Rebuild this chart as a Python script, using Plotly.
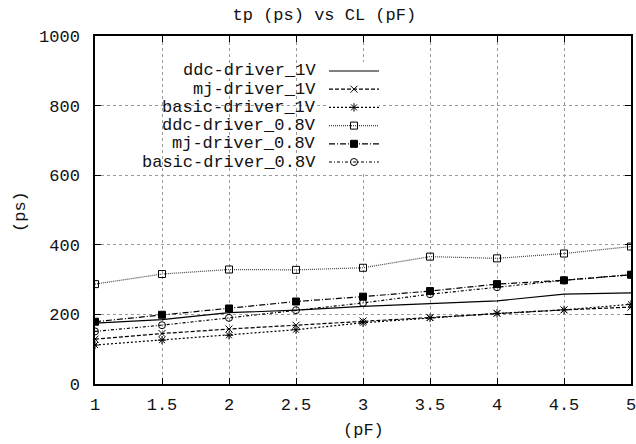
import plotly.graph_objects as go

cl_pf = [1, 1.5, 2, 2.5, 3, 3.5, 4, 4.5, 5]
ddc_1v = [175, 185, 205, 212, 223, 230, 239, 258, 262]
mj_1v = [129, 145, 158, 169, 181, 191, 203, 213, 221]
basic_1v = [112, 126, 140, 156, 176, 190, 203, 213, 229]
ddc_08v = [287, 316, 329, 328, 334, 366, 361, 375, 395]
mj_08v = [179, 199, 217, 237, 251, 267, 287, 298, 314]
basic_08v = [151, 169, 190, 212, 233, 258, 278, 298, 314]

names = ["ddc-driver_1V", "mj-driver_1V", "basic-driver_1V",
         "ddc-driver_0.8V", "mj-driver_0.8V", "basic-driver_0.8V"]
series = [ddc_1v, mj_1v, basic_1v, ddc_08v, mj_08v, basic_08v]
dashes = ["solid", "4px,2px", "2px,2px", "1px,1px", "6px,2px,1px,2px", "3px,2px,1px,2px"]
symbols = [None, "x-thin-open", "asterisk-open", "square-open", "square", "circle-open"]
colors = ["#000000", "#000000", "#000000", "#444444", "#000000", "#000000"]

FONT = "Liberation Mono, Courier New, monospace"
FS = 17
TXT = "#111111"

fig = go.Figure()
for nm, ys, d, s, c in zip(names, series, dashes, symbols, colors):
    fig.add_trace(go.Scatter(
        x=cl_pf, y=ys, name=nm, mode="lines+markers" if s else "lines",
        line=dict(color=c, width=1.2, dash=d),
        marker=dict(symbol=s or "circle", size=7, color="#000000",
                    line=dict(color="#000000", width=1)),
        showlegend=False))

W, H = 636, 444
L, R, T, B = 95, 5, 36, 60
pw, ph = W - L - R, H - T - B
kx0, kx1 = (329 - L) / pw, (379 - L) / pw
ky_top, ky_bot = 71, 162
row_step = (ky_bot - ky_top) / (len(names) - 1)

# gnuplot-style key: text on the left, sample on the right
for i, (nm, d, s, c) in enumerate(zip(names, dashes, symbols, colors)):
    fig.add_trace(go.Scatter(
        x=[0, 0.5, 1], y=[i, i, i], xaxis="x2", yaxis="y2",
        mode="lines", line=dict(color=c, width=1.2, dash=d),
        showlegend=False, hoverinfo="skip"))
    if s:
        fig.add_trace(go.Scatter(
            x=[0.5], y=[i], xaxis="x2", yaxis="y2", mode="markers",
            marker=dict(symbol=s, size=7, color="#000000",
                        line=dict(color="#000000", width=1)),
            showlegend=False, hoverinfo="skip"))
    yrow = ky_top + i * row_step
    fig.add_annotation(xref="paper", yref="paper",
                       x=(318 - L) / pw, y=1 - (yrow - T) / ph, text=nm,
                       showarrow=False, xanchor="right", yanchor="middle",
                       font=dict(family=FONT, size=FS, color=TXT))

# axis titles
fig.add_annotation(xref="paper", yref="paper", x=0.5, y=-(430 - (H - B)) / ph,
                   text="(pF)", showarrow=False, xanchor="center", yanchor="middle",
                   font=dict(family=FONT, size=FS, color=TXT))
fig.add_annotation(xref="paper", yref="paper", x=-(L - 20) / pw, y=1 - (212 - T) / ph,
                   text="(ps)", showarrow=False, textangle=-90,
                   xanchor="center", yanchor="middle",
                   font=dict(family=FONT, size=FS, color=TXT))

fig.update_layout(
    width=W, height=H,
    margin=dict(l=L, r=R, t=T, b=B, autoexpand=False),
    paper_bgcolor="white", plot_bgcolor="white",
    font=dict(family=FONT, size=FS, color=TXT),
    title=dict(text="tp (ps) vs CL (pF)", x=0.51, xanchor="center",
               y=1 - 14 / H, yanchor="middle",
               font=dict(family=FONT, size=FS, color=TXT)),
    xaxis=dict(range=[1, 5], dtick=0.5, automargin=False,
               showgrid=True, gridcolor="#999999", griddash="dot", gridwidth=1,
               showline=True, linecolor="#000000", linewidth=1.5, mirror="ticks",
               ticks="inside", ticklen=6, tickcolor="#000000",
               zeroline=False, tickangle=0, ticklabeloverflow="allow",
               ticklabelstandoff=4,
               tickfont=dict(family=FONT, size=FS, color=TXT)),
    yaxis=dict(range=[0, 1000], dtick=200, automargin=False,
               showgrid=True, gridcolor="#999999", griddash="dot", gridwidth=1,
               showline=True, linecolor="#000000", linewidth=1.5, mirror="ticks",
               ticks="inside", ticklen=6, tickcolor="#000000",
               zeroline=False, ticklabelstandoff=10,
               tickfont=dict(family=FONT, size=FS, color=TXT)),
    xaxis2=dict(domain=[kx0, kx1], range=[0, 1], anchor="y2", visible=False,
                fixedrange=True),
    yaxis2=dict(domain=[1 - (ky_bot + row_step / 2 - T) / ph,
                        1 - (ky_top - row_step / 2 - T) / ph],
                range=[len(names) - 0.5, -0.5], anchor="x2", visible=False,
                fixedrange=True),
    showlegend=False,
)

fig.write_html("out.html",
               config={"displayModeBar": False},
               post_script="document.body.style.margin='0';"
                           "document.body.style.overflow='hidden';")
